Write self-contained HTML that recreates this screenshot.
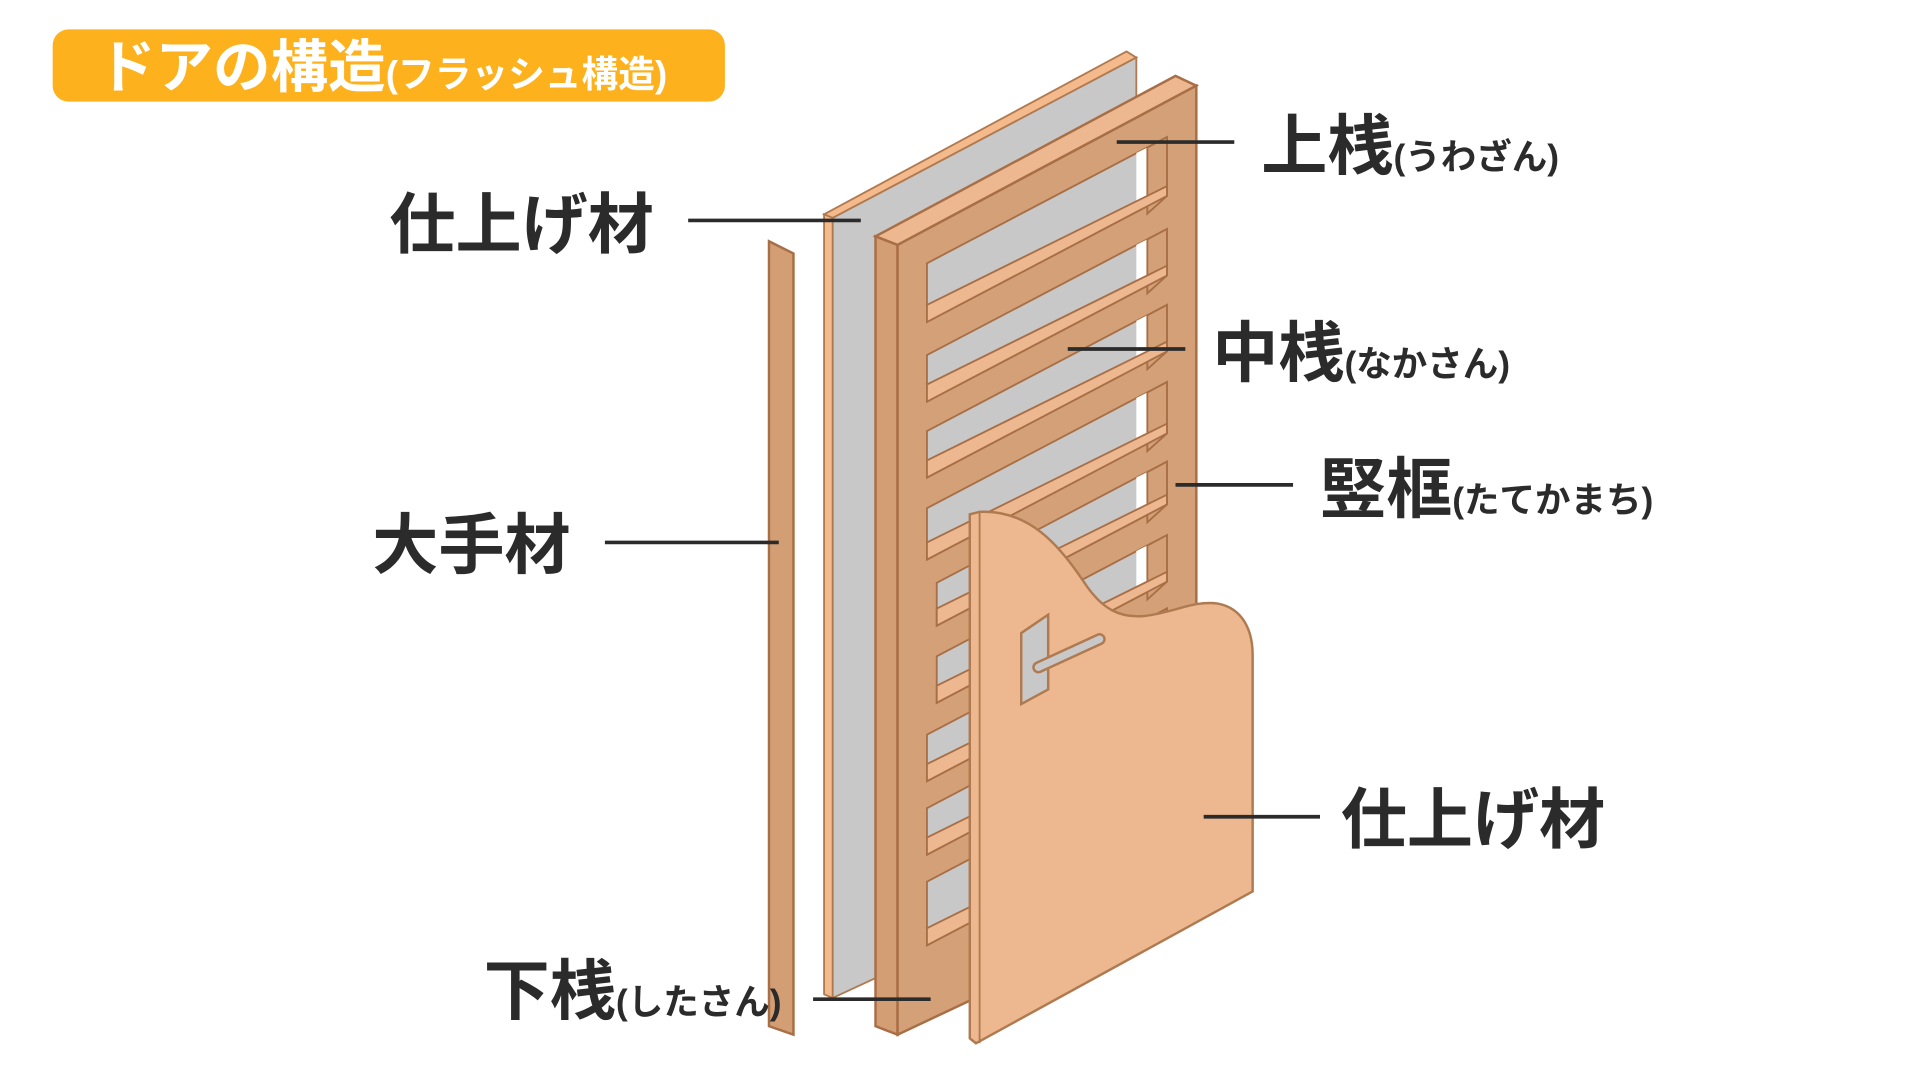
<!DOCTYPE html>
<html><head><meta charset="utf-8"><style>
html,body{margin:0;padding:0;background:#fff;}
svg{display:block;}
text{font-family:"Liberation Sans","Noto Sans CJK JP",sans-serif;font-weight:700;}
</style></head><body>
<svg width="1920" height="1080" viewBox="0 0 1568 882" preserveAspectRatio="none" xmlns="http://www.w3.org/2000/svg">
<rect x="43" y="24" width="549" height="59" rx="13" fill="#FDB11C"/>
<text x="80" y="71" fill="#fff" font-size="47">ドアの構造<tspan font-size="30">(フラッシュ構造)</tspan></text>

<polygon points="628,197 648,207 648,845 628,838" fill="#D49E75" stroke="#A86E45" stroke-width="2"/>

<polygon points="673,175 920,42 928,47 680,178" fill="#F5BA8C" stroke="#B07A50" stroke-width="1.5"/>
<polygon points="680,178 928,47 928,700 680,815" fill="#C8C8C8" stroke="#B07A50" stroke-width="1.5"/>
<polygon points="673,175 680,178 680,815 673,812" fill="#F5BA8C" stroke="#B07A50" stroke-width="1.5"/>

<polygon points="715,193 733,200 733,845 715,838" fill="#D49E75" stroke="#A86E45" stroke-width="2"/>
<polygon points="715,193 960,62 977,70 733,200" fill="#EDB78F" stroke="#A86E45" stroke-width="2"/>
<polygon points="733,200 977,70 977,730 733,845" fill="#D4A077" stroke="#A86E45" stroke-width="2"/>

<g stroke="#A86E45" stroke-width="1.5">
<polygon points="757,215 953,112 953,160 757,263" fill="#C8C8C8"/>
<polygon points="928,125 937,120.5 937,168.5 928,173" fill="#fff" stroke="none"/>
<polygon points="937,120.5 953,112 953,160 937,174.5" fill="#D4A077"/>
<polygon points="757,249 953,152 953,160 757,263" fill="#EDB78F"/>

<polygon points="757,290 953,187 953,225 757,328" fill="#C8C8C8"/>
<polygon points="928,200 937,195.5 937,233.5 928,238" fill="#fff" stroke="none"/>
<polygon points="937,195.5 953,187 953,225 937,239.5" fill="#D4A077"/>
<polygon points="757,314 953,217 953,225 757,328" fill="#EDB78F"/>

<polygon points="757,352 953,249 953,287 757,390" fill="#C8C8C8"/>
<polygon points="928,262 937,257.5 937,295.5 928,300" fill="#fff" stroke="none"/>
<polygon points="937,257.5 953,249 953,287 937,301.5" fill="#D4A077"/>
<polygon points="757,376 953,279 953,287 757,390" fill="#EDB78F"/>

<polygon points="757,415 953,312 953,354 757,457" fill="#C8C8C8"/>
<polygon points="928,325 937,320.5 937,362.5 928,367" fill="#fff" stroke="none"/>
<polygon points="937,320.5 953,312 953,354 937,368.5" fill="#D4A077"/>
<polygon points="757,443 953,346 953,354 757,457" fill="#EDB78F"/>

<polygon points="765,476 953,377 953,412 765,511" fill="#C8C8C8"/>
<polygon points="928,390 937,385.5 937,420.5 928,425" fill="#fff" stroke="none"/>
<polygon points="937,385.5 953,377 953,412 937,426.5" fill="#D4A077"/>
<polygon points="765,497 953,404 953,412 765,511" fill="#EDB78F"/>

<polygon points="765,536 953,437 953,475 765,574" fill="#C8C8C8"/>
<polygon points="928,450 937,445.5 937,483.5 928,488" fill="#fff" stroke="none"/>
<polygon points="937,445.5 953,437 953,475 937,489.5" fill="#D4A077"/>
<polygon points="765,560 953,467 953,475 765,574" fill="#EDB78F"/>

<polygon points="757,600 953,497 953,535 757,638" fill="#C8C8C8"/>
<polygon points="928,510 937,505.5 937,543.5 928,548" fill="#fff" stroke="none"/>
<polygon points="937,505.5 953,497 953,535 937,549.5" fill="#D4A077"/>
<polygon points="757,624 953,527 953,535 757,638" fill="#EDB78F"/>

<polygon points="757,660 953,557 953,595 757,698" fill="#C8C8C8"/>
<polygon points="928,570 937,565.5 937,603.5 928,608" fill="#fff" stroke="none"/>
<polygon points="937,565.5 953,557 953,595 937,609.5" fill="#D4A077"/>
<polygon points="757,684 953,587 953,595 757,698" fill="#EDB78F"/>

<polygon points="757,720 953,617 953,669 757,772" fill="#C8C8C8"/>
<polygon points="928,630 937,625.5 937,677.5 928,682" fill="#fff" stroke="none"/>
<polygon points="937,625.5 953,617 953,669 937,683.5" fill="#D4A077"/>
<polygon points="757,758 953,661 953,669 757,772" fill="#EDB78F"/>
</g>

<path d="M800,418 C840,416 865,445 885,475 C900,498 915,505 935,503 C960,500 975,490 995,493 C1015,497 1023,515 1023,535 L1023,728 L797,852 L792,848 L792,420 Z" fill="#EDB78F" stroke="#B07A50" stroke-width="2"/>
<line x1="800" y1="418" x2="800" y2="852" stroke="#B07A50" stroke-width="1.5"/>
<polygon points="834,517 856,502 856,563 834,575" fill="#C8C8C8" stroke="#B07A50" stroke-width="2"/>
<line x1="848" y1="545" x2="898" y2="522" stroke="#B07A50" stroke-width="10" stroke-linecap="round"/>
<line x1="848" y1="545" x2="898" y2="522" stroke="#C8C8C8" stroke-width="6" stroke-linecap="round"/>

<g stroke="#2b2b2b" stroke-width="3">
<line x1="562" y1="180" x2="703" y2="180"/>
<line x1="494" y1="443" x2="636" y2="443"/>
<line x1="912" y1="116" x2="1008" y2="116"/>
<line x1="872" y1="285" x2="968" y2="285"/>
<line x1="960" y1="396" x2="1056" y2="396"/>
<line x1="983" y1="667" x2="1078" y2="667"/>
<line x1="664" y1="816" x2="760" y2="816"/>
</g>

<g fill="#2b2b2b" font-size="54">
<text x="318" y="202">仕上げ材</text>
<text x="304" y="464">大手材</text>
<text x="1030" y="138">上桟<tspan font-size="29">(うわざん)</tspan></text>
<text x="990" y="307">中桟<tspan font-size="29">(なかさん)</tspan></text>
<text x="1078" y="418">竪框<tspan font-size="29">(たてかまち)</tspan></text>
<text x="1095" y="688">仕上げ材</text>
<text x="395" y="828">下桟<tspan font-size="29">(したさん)</tspan></text>
</g>
</svg>
</body></html>
